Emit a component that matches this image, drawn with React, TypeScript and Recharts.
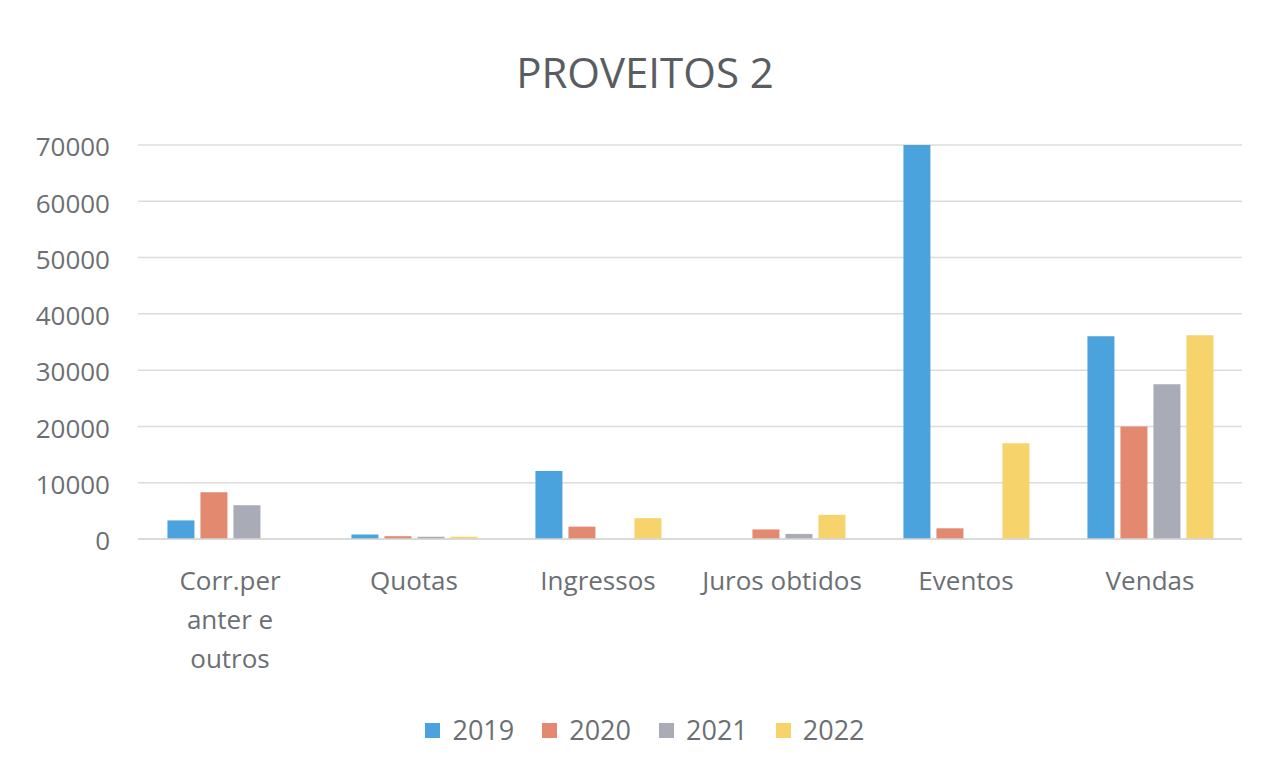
import { BarChart, Bar, XAxis, YAxis, CartesianGrid } from 'recharts'

const CATEGORIES = ['Corr.per anter e outros', 'Quotas', 'Ingressos', 'Juros obtidos', 'Eventos', 'Vendas']
const YEARS = ['2019', '2020', '2021', '2022']
const V2019 = [3300, 800, 12100, 0, 70000, 36000]
const V2020 = [8300, 500, 2200, 1700, 1900, 20000]
const V2021 = [6000, 400, 0, 900, 0, 27500]
const V2022 = [0, 400, 3700, 4300, 17000, 36200]
const Y_TICKS = [0, 10000, 20000, 30000, 40000, 50000, 60000, 70000]

const COLORS = ['#4BA3DE', '#E3896F', '#A9ABB7', '#F6D36B']
const TEXT = '#6b6f74'
const FONT = '"Open Sans", "Liberation Sans", sans-serif'

const chartData = CATEGORIES.map((name, i) => ({
  name,
  '2019': V2019[i],
  '2020': V2020[i],
  '2021': V2021[i],
  '2022': V2022[i],
}))

// simple word wrap, Excel-ish
const wrap = (label: string, max: number) => {
  const lines: string[] = []
  let cur = ''
  label.split(' ').forEach((w) => {
    const next = cur ? cur + ' ' + w : w
    if (next.length > max && cur) {
      lines.push(cur)
      cur = w
    } else {
      cur = next
    }
  })
  if (cur) lines.push(cur)
  return lines
}

const CategoryTick = ({ x, y, payload }: any) => {
  const lines = wrap(payload.value, 13)
  return (
    <text x={x} y={y} textAnchor="middle" fill={TEXT} fontSize={26} fontFamily={FONT}>
      {lines.map((l, i) => (
        <tspan key={i} x={x} dy={i === 0 ? 43 : 39}>
          {l}
        </tspan>
      ))}
    </text>
  )
}

export default function App() {
  return (
    <div
      style={{
        position: 'absolute',
        left: 0,
        top: 0,
        width: 1272,
        height: 778,
        background: '#fff',
        fontFamily: FONT,
      }}
    >
      <div
        style={{
          position: 'absolute',
          left: 0,
          right: 0,
          top: 44,
          paddingLeft: 18,
          textAlign: 'center',
          fontSize: 42,
          color: '#595c61',
          lineHeight: '56px',
        }}
      >
        PROVEITOS 2
      </div>

      <BarChart
        width={1272}
        height={778}
        data={chartData}
        margin={{ top: 145, right: 30, bottom: 89, left: 0 }}
        barCategoryGap="16%"
        barGap={6}
      >
        <CartesianGrid vertical={false} stroke="#dcdcdc" strokeWidth={1.5} />
        <XAxis
          dataKey="name"
          height={150}
          interval={0}
          tickLine={false}
          axisLine={{ stroke: '#d6d6d6', strokeWidth: 1.5 }}
          tick={<CategoryTick />}
        />
        <YAxis
          width={138}
          domain={[0, 70000]}
          ticks={Y_TICKS}
          interval={0}
          axisLine={false}
          tickLine={false}
          tickSize={0}
          tickMargin={28}
          tick={{ fill: TEXT, fontSize: 26, fontFamily: FONT, dy: 2 }}
        />
        {YEARS.map((yr, i) => (
          <Bar key={yr} dataKey={yr} fill={COLORS[i]} isAnimationActive={false} />
        ))}
      </BarChart>

      {/* Legend */}
      <div
        style={{
          position: 'absolute',
          left: 0,
          right: 0,
          top: 712,
          paddingLeft: 18,
          display: 'flex',
          justifyContent: 'center',
          gap: 28,
          fontSize: 27,
          color: TEXT,
          lineHeight: '36px',
        }}
      >
        {YEARS.map((yr, i) => (
          <div key={yr} style={{ display: 'flex', alignItems: 'center', gap: 12 }}>
            <div style={{ width: 15, height: 15, background: COLORS[i] }} />
            <span>{yr}</span>
          </div>
        ))}
      </div>
    </div>
  )
}
